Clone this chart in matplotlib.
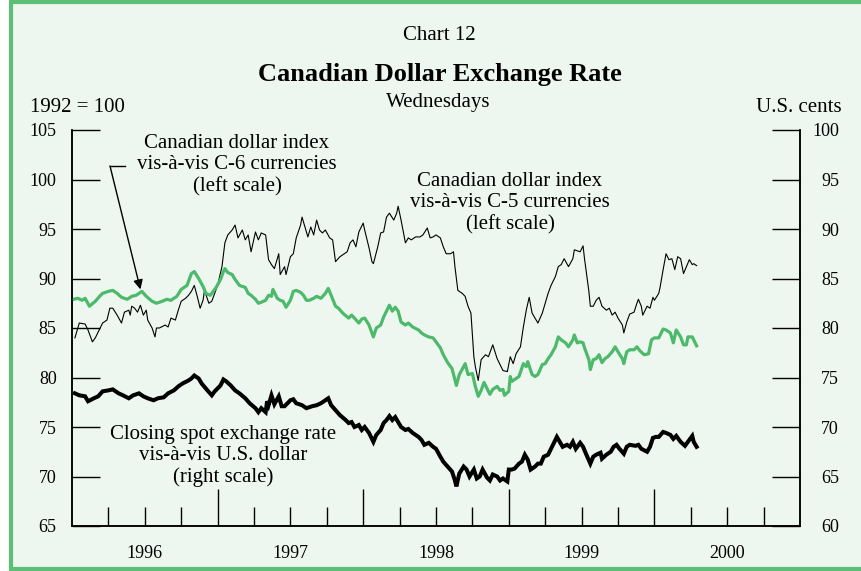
"""
Chart 12 - Canadian dollar exchange rate, Wednesdays 1996-2000
"""

import numpy as np
import matplotlib
matplotlib.use('Agg')
from matplotlib import pyplot as plt
from matplotlib.patches import Rectangle
from matplotlib.ticker import FixedLocator, FixedFormatter

plt.rcParams['font.family'] = ['Liberation Serif', 'DejaVu Serif']

# C-5 index (left scale), thin black
c5_t = [1996.02, 1996.05, 1996.09, 1996.11, 1996.14, 1996.16, 1996.18, 1996.21, 1996.24, 1996.26,
        1996.28, 1996.31, 1996.34, 1996.36, 1996.39, 1996.40, 1996.41, 1996.43, 1996.45, 1996.47,
        1996.49, 1996.51, 1996.52, 1996.55, 1996.57, 1996.58, 1996.60, 1996.64, 1996.66, 1996.68,
        1996.71, 1996.73, 1996.75, 1996.78, 1996.80, 1996.82, 1996.84, 1996.86, 1996.88, 1996.90,
        1996.91, 1996.94, 1996.96, 1996.98, 1997.00, 1997.03, 1997.05, 1997.07, 1997.10, 1997.12,
        1997.14, 1997.17, 1997.19, 1997.21, 1997.23, 1997.26, 1997.28, 1997.30, 1997.33, 1997.35,
        1997.37, 1997.39, 1997.42, 1997.43, 1997.46, 1997.47, 1997.50, 1997.52, 1997.54, 1997.57,
        1997.58, 1997.60, 1997.62, 1997.64, 1997.66, 1997.68, 1997.70, 1997.72, 1997.74, 1997.77,
        1997.79, 1997.81, 1997.84, 1997.86, 1997.89, 1997.91, 1997.93, 1997.95, 1997.97, 1998.00,
        1998.01, 1998.04, 1998.06, 1998.07, 1998.10, 1998.12, 1998.14, 1998.16, 1998.18, 1998.21,
        1998.23, 1998.24, 1998.26, 1998.29, 1998.31, 1998.33, 1998.36, 1998.39, 1998.41, 1998.44,
        1998.46, 1998.48, 1998.50, 1998.53, 1998.55, 1998.57, 1998.60, 1998.62, 1998.63, 1998.65,
        1998.68, 1998.70, 1998.72, 1998.74, 1998.76, 1998.77, 1998.79, 1998.81, 1998.84, 1998.86,
        1998.89, 1998.92, 1998.94, 1998.96, 1998.99, 1999.01, 1999.03, 1999.05, 1999.08, 1999.10,
        1999.12, 1999.14, 1999.16, 1999.20, 1999.23, 1999.25, 1999.27, 1999.29, 1999.32, 1999.34,
        1999.36, 1999.38, 1999.41, 1999.44, 1999.45, 1999.49, 1999.51, 1999.52, 1999.55, 1999.56,
        1999.58, 1999.60, 1999.62, 1999.64, 1999.67, 1999.69, 1999.71, 1999.73, 1999.75, 1999.78,
        1999.79, 1999.81, 1999.83, 1999.86, 1999.88, 1999.89, 1999.91, 1999.92, 1999.95, 1999.97,
        1999.99, 2000.00, 2000.03, 2000.04, 2000.06, 2000.08, 2000.10, 2000.12, 2000.14, 2000.16,
        2000.18, 2000.20, 2000.22, 2000.24, 2000.26, 2000.27, 2000.29]
c5_v = [84.0, 85.5, 85.4, 84.8, 83.6, 84.0, 84.6, 85.5, 85.8, 87.0,
        87.0, 86.3, 85.5, 86.6, 86.8, 86.3, 87.2, 87.0, 86.6, 87.3,
        86.3, 86.8, 85.8, 85.0, 84.1, 85.0, 85.0, 85.3, 85.1, 86.0,
        85.8, 86.8, 87.7, 88.0, 88.3, 88.7, 89.3, 88.2, 87.0, 87.8,
        88.8, 87.5, 87.7, 88.5, 89.3, 91.2, 93.6, 94.4, 94.9, 95.4,
        94.1, 94.9, 93.9, 94.4, 92.7, 94.7, 93.9, 94.6, 94.4, 91.9,
        91.4, 91.0, 92.5, 90.4, 91.2, 90.4, 92.2, 92.5, 94.1, 95.4,
        96.2, 95.2, 94.2, 95.2, 94.4, 95.9, 94.9, 94.6, 94.9, 94.1,
        93.9, 91.7, 92.2, 92.4, 92.7, 93.6, 93.9, 93.2, 94.7, 95.6,
        94.9, 93.1, 91.7, 91.5, 93.2, 94.6, 94.7, 96.2, 96.6, 95.9,
        96.6, 97.3, 95.9, 93.6, 94.1, 93.9, 94.2, 94.2, 94.4, 95.1,
        94.1, 94.2, 94.4, 94.1, 93.2, 92.5, 92.5, 92.7, 91.2, 88.8,
        88.5, 88.2, 87.2, 86.5, 82.1, 81.1, 79.7, 81.8, 82.3, 82.1,
        83.3, 81.9, 81.3, 80.7, 80.6, 82.1, 81.4, 82.4, 83.1, 85.1,
        86.8, 88.1, 86.5, 85.5, 86.5, 87.5, 88.5, 89.3, 90.2, 91.2,
        91.4, 92.0, 91.2, 92.0, 92.9, 92.7, 93.3, 92.0, 88.7, 87.2,
        87.2, 87.8, 88.1, 87.2, 86.8, 87.0, 86.3, 86.6, 86.0, 85.3,
        84.5, 85.6, 86.4, 86.6, 87.5, 87.9, 87.2, 86.3, 87.2, 87.0,
        88.1, 87.8, 88.5, 89.2, 90.9, 92.5, 91.9, 92.0, 90.9, 92.2,
        92.0, 90.5, 91.2, 91.9, 91.4, 91.5, 91.3]

# C-6 index (left scale), green
c6_t = [1996.01, 1996.04, 1996.07, 1996.09, 1996.12, 1996.16, 1996.19, 1996.21, 1996.25, 1996.28,
        1996.31, 1996.34, 1996.38, 1996.41, 1996.44, 1996.48, 1996.51, 1996.55, 1996.58, 1996.62,
        1996.65, 1996.68, 1996.72, 1996.75, 1996.79, 1996.82, 1996.84, 1996.87, 1996.90, 1996.92,
        1996.95, 1996.97, 1996.99, 1997.02, 1997.04, 1997.05, 1997.07, 1997.10, 1997.12, 1997.15,
        1997.19, 1997.21, 1997.23, 1997.26, 1997.28, 1997.30, 1997.33, 1997.35, 1997.37, 1997.38,
        1997.41, 1997.43, 1997.45, 1997.47, 1997.50, 1997.52, 1997.54, 1997.57, 1997.59, 1997.61,
        1997.63, 1997.66, 1997.68, 1997.71, 1997.74, 1997.76, 1997.78, 1997.81, 1997.83, 1997.86,
        1997.90, 1997.92, 1997.94, 1997.97, 1997.99, 1998.01, 1998.04, 1998.07, 1998.09, 1998.12,
        1998.14, 1998.16, 1998.18, 1998.20, 1998.22, 1998.24, 1998.26, 1998.29, 1998.31, 1998.34,
        1998.38, 1998.40, 1998.42, 1998.45, 1998.48, 1998.50, 1998.53, 1998.55, 1998.58, 1998.61,
        1998.64, 1998.66, 1998.69, 1998.70, 1998.72, 1998.75, 1998.77, 1998.79, 1998.81, 1998.83,
        1998.85, 1998.87, 1998.89, 1998.92, 1998.94, 1998.96, 1998.97, 1999.00, 1999.01, 1999.02,
        1999.04, 1999.07, 1999.10, 1999.12, 1999.13, 1999.16, 1999.18, 1999.20, 1999.23, 1999.25,
        1999.27, 1999.29, 1999.32, 1999.34, 1999.36, 1999.39, 1999.41, 1999.44, 1999.45, 1999.47,
        1999.49, 1999.51, 1999.52, 1999.55, 1999.56, 1999.58, 1999.60, 1999.62, 1999.64, 1999.66,
        1999.68, 1999.71, 1999.73, 1999.75, 1999.78, 1999.79, 1999.81, 1999.83, 1999.86, 1999.88,
        1999.90, 1999.93, 1999.96, 1999.98, 2000.00, 2000.03, 2000.06, 2000.08, 2000.11, 2000.13,
        2000.15, 2000.18, 2000.20, 2000.22, 2000.23, 2000.26, 2000.27, 2000.29]
c6_v = [87.9, 88.0, 87.8, 88.0, 87.2, 87.7, 88.2, 88.5, 88.7, 88.8,
        88.5, 88.1, 87.9, 88.2, 88.3, 88.7, 88.2, 87.7, 87.5, 87.7,
        87.9, 87.8, 88.2, 88.9, 89.3, 90.5, 90.7, 90.0, 89.2, 88.5,
        88.3, 88.7, 89.1, 89.9, 90.7, 91.0, 90.6, 90.4, 89.9, 89.3,
        89.1, 88.5, 88.3, 87.9, 87.5, 87.6, 87.8, 88.3, 88.2, 88.9,
        88.0, 87.8, 87.7, 87.1, 87.8, 88.7, 88.8, 88.6, 88.3, 87.8,
        87.8, 88.0, 88.2, 88.0, 88.5, 89.0, 88.3, 87.2, 87.0, 86.5,
        86.0, 86.3, 86.0, 85.5, 85.9, 86.0, 85.3, 84.1, 85.0, 85.3,
        86.1, 86.7, 87.3, 86.7, 87.1, 86.7, 85.6, 85.3, 85.5, 85.1,
        84.8, 84.5, 84.3, 84.1, 84.0, 83.6, 83.0, 82.3, 81.5, 80.9,
        79.2, 80.3, 81.1, 81.4, 80.3, 80.4, 79.1, 78.1, 78.7, 79.5,
        78.9, 78.3, 78.8, 79.1, 78.7, 78.8, 78.2, 78.6, 80.1, 79.6,
        79.8, 80.1, 81.4, 81.1, 81.6, 80.3, 80.1, 80.3, 81.3, 81.4,
        81.9, 82.3, 83.1, 84.1, 83.8, 83.5, 83.1, 83.8, 84.3, 83.5,
        83.6, 83.5, 83.0, 81.8, 80.8, 81.8, 81.9, 82.3, 81.5, 81.9,
        82.1, 82.6, 83.1, 82.6, 81.9, 81.4, 82.6, 82.8, 82.8, 83.1,
        82.7, 82.3, 82.4, 83.8, 84.0, 84.0, 84.9, 84.8, 84.5, 83.5,
        84.8, 84.1, 83.3, 83.3, 84.1, 84.1, 83.8, 83.2]

# closing spot rate vs U.S. dollar (right scale, U.S. cents), thick black
spot_t = [1996.02, 1996.05, 1996.09, 1996.11, 1996.15, 1996.18, 1996.21, 1996.25, 1996.28, 1996.32,
          1996.35, 1996.39, 1996.42, 1996.46, 1996.49, 1996.52, 1996.56, 1996.59, 1996.63, 1996.66,
          1996.70, 1996.73, 1996.76, 1996.80, 1996.82, 1996.84, 1996.87, 1996.89, 1996.93, 1996.96,
          1996.98, 1997.02, 1997.04, 1997.06, 1997.09, 1997.12, 1997.15, 1997.19, 1997.22, 1997.26,
          1997.28, 1997.30, 1997.33, 1997.34, 1997.35, 1997.37, 1997.39, 1997.42, 1997.44, 1997.46,
          1997.50, 1997.52, 1997.54, 1997.58, 1997.61, 1997.65, 1997.68, 1997.71, 1997.74, 1997.76,
          1997.78, 1997.81, 1997.84, 1997.88, 1997.90, 1997.92, 1997.94, 1997.97, 1997.99, 1998.01,
          1998.04, 1998.07, 1998.09, 1998.12, 1998.14, 1998.16, 1998.18, 1998.20, 1998.22, 1998.24,
          1998.26, 1998.29, 1998.31, 1998.34, 1998.38, 1998.40, 1998.42, 1998.45, 1998.48, 1998.50,
          1998.53, 1998.55, 1998.58, 1998.61, 1998.63, 1998.64, 1998.66, 1998.69, 1998.71, 1998.73,
          1998.76, 1998.78, 1998.80, 1998.82, 1998.85, 1998.87, 1998.89, 1998.92, 1998.94, 1998.96,
          1998.99, 1999.00, 1999.02, 1999.04, 1999.07, 1999.09, 1999.11, 1999.13, 1999.15, 1999.18,
          1999.20, 1999.22, 1999.24, 1999.27, 1999.29, 1999.31, 1999.33, 1999.35, 1999.37, 1999.40,
          1999.42, 1999.44, 1999.46, 1999.49, 1999.51, 1999.53, 1999.56, 1999.58, 1999.60, 1999.63,
          1999.64, 1999.67, 1999.70, 1999.72, 1999.74, 1999.76, 1999.79, 1999.81, 1999.83, 1999.87,
          1999.89, 1999.91, 1999.95, 1999.97, 1999.99, 2000.01, 2000.03, 2000.06, 2000.08, 2000.11,
          2000.13, 2000.15, 2000.18, 2000.21, 2000.23, 2000.26, 2000.27, 2000.29]
spot_v = [73.4, 73.2, 73.1, 72.6, 72.9, 73.1, 73.6, 73.7, 73.8, 73.4,
          73.2, 72.9, 73.2, 73.4, 73.1, 72.9, 72.7, 72.9, 73.0, 73.4,
          73.7, 74.1, 74.4, 74.7, 74.9, 75.2, 74.9, 74.4, 73.7, 73.2,
          73.6, 74.2, 74.8, 74.6, 74.2, 73.7, 73.4, 72.9, 72.4, 71.9,
          71.5, 71.9, 71.5, 72.6, 72.2, 73.2, 72.3, 73.1, 72.1, 72.1,
          72.7, 72.8, 72.4, 72.2, 71.9, 72.1, 72.2, 72.4, 72.7, 72.9,
          72.2, 71.7, 71.2, 70.7, 70.4, 70.5, 70.0, 70.2, 69.7, 70.0,
          69.4, 68.5, 69.2, 69.7, 70.4, 70.7, 71.1, 70.7, 71.0, 70.5,
          70.0, 69.7, 69.8, 69.4, 69.0, 68.7, 68.2, 68.4, 68.0, 67.8,
          67.0, 66.5, 66.0, 65.5, 64.6, 64.0, 65.3, 66.0, 65.7, 65.0,
          65.7, 64.8, 65.0, 65.7, 64.9, 64.6, 65.2, 65.0, 64.6, 64.8,
          64.5, 65.7, 65.7, 65.8, 66.3, 66.5, 67.2, 66.7, 65.7, 66.0,
          66.3, 66.3, 67.0, 67.2, 67.8, 68.4, 69.0, 68.5, 68.0, 68.2,
          68.0, 68.5, 67.8, 68.4, 68.0, 67.3, 66.3, 67.0, 67.2, 67.4,
          66.8, 67.2, 67.5, 68.0, 68.2, 67.8, 67.3, 68.0, 68.2, 68.1,
          68.2, 67.8, 67.5, 68.0, 68.9, 69.0, 69.0, 69.5, 69.4, 69.2,
          68.8, 69.1, 68.5, 68.1, 68.5, 69.1, 68.5, 68.0]

years = [1996, 1997, 1998, 1999, 2000]
left_ticks = [65, 70, 75, 80, 85, 90, 95, 100, 105]
right_ticks = [60, 65, 70, 75, 80, 85, 90, 95, 100]

W, H = 861, 571
bg = '#edf7f0'
green = '#4cb96b'

fig = plt.figure(figsize=(W / 100, H / 100), dpi=100, facecolor='white')
fig.patches.append(Rectangle((11 / W, 2 / H), 1.0, 1 - 4 / H, transform=fig.transFigure,
                             facecolor=bg, edgecolor='#5cbf75', linewidth=3, zorder=-10))

ax = fig.add_axes([72 / W, 1 - 526 / H, 728 / W, 396 / H])
ax.patch.set_visible(False)
ax2 = ax.twinx()
ax2.patch.set_visible(False)

ax.plot(c5_t, c5_v, color='black', lw=0.8, zorder=3)
ax.plot(c6_t, c6_v, color=green, lw=2.3, zorder=4)
ax2.plot(spot_t, spot_v, color='black', lw=2.9, solid_joinstyle='miter')

ax.set_xlim(1996, 2001)
ax.set_ylim(65, 105)
ax2.set_ylim(60, 100)

for a in (ax, ax2):
    a.spines['top'].set_visible(False)
    for s in ('left', 'right', 'bottom'):
        a.spines[s].set_linewidth(1.1)

ax.set_yticks(left_ticks)
ax.tick_params(axis='y', direction='in', length=20, width=1.0, pad=11, labelsize=13)
ax2.set_yticks(right_ticks)
ax2.tick_params(axis='y', direction='in', length=20, width=1.0, pad=28, labelsize=13)
for lab in ax2.get_yticklabels():
    lab.set_horizontalalignment('right')

# long ticks at year boundaries, short quarter ticks, year labels mid-year
ax.xaxis.set_major_locator(FixedLocator(years[1:]))
ax.xaxis.set_major_formatter(FixedFormatter([]))
q_pos = [y + q for y in years for q in (0.25, 0.5, 0.75)]
q_lab = [str(y) if q == 0.5 else '' for y in years for q in (0.25, 0.5, 0.75)]
ax.xaxis.set_minor_locator(FixedLocator(q_pos))
ax.xaxis.set_minor_formatter(FixedFormatter(q_lab))
ax.tick_params(axis='x', which='major', direction='in', length=27, width=1.0)
ax.tick_params(axis='x', which='minor', direction='in', length=14, width=1.0, pad=14,
               labelsize=13)

def px(x, y):
    return x / W, 1 - y / H

fig.text(*px(439, 35), 'Chart 12', ha='center', va='center', fontsize=15)
fig.text(*px(440, 75), 'Canadian Dollar Exchange Rate', ha='center', va='center',
         fontsize=19, fontweight='bold')
fig.text(*px(438, 103), 'Wednesdays', ha='center', va='center', fontsize=15)
fig.text(*px(30, 108), '1992 = 100', ha='left', va='center', fontsize=15)
fig.text(*px(842, 108), 'U.S. cents', ha='right', va='center', fontsize=15)

fig.text(*px(237, 165), 'Canadian dollar index\nvis-à-vis C-6 currencies\n(left scale)',
         ha='center', va='center', fontsize=15, linespacing=1.18)
fig.text(*px(510, 203), 'Canadian dollar index\nvis-à-vis C-5 currencies\n(left scale)',
         ha='center', va='center', fontsize=15, linespacing=1.18)
fig.text(*px(223, 456), 'Closing spot exchange rate\nvis-à-vis U.S. dollar\n(right scale)',
         ha='center', va='center', fontsize=15, linespacing=1.18)

# arrow from the C-6 label to the green line
fig.add_artist(plt.Line2D([125 / W, 110 / W], [1 - 166 / H, 1 - 166 / H],
                          color='black', lw=1.0))
ax.annotate('', xy=(1996.47, 88.9), xycoords='data',
            xytext=px(110, 166), textcoords='figure fraction',
            arrowprops=dict(arrowstyle='-|>', color='black', lw=1.0,
                            mutation_scale=14, shrinkA=0, shrinkB=0))

fig.savefig('out.png', dpi=100, facecolor='white')
